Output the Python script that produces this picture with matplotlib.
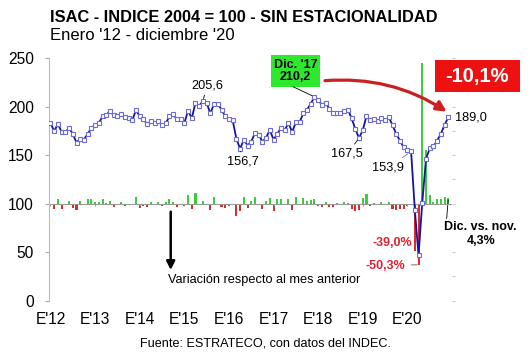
import numpy as np
import matplotlib
matplotlib.use('Agg')
import matplotlib.pyplot as plt
from matplotlib.patches import Rectangle

plt.rcParams['font.family'] = ['Liberation Sans', 'DejaVu Sans']

# ISAC, indice 2004=100, mensual ene-2012 .. dic-2020
isac = [
    183, 175, 182, 174, 174, 178, 172, 163, 167, 166, 172, 178,          # 2012
    181, 183, 190, 191, 196, 191, 190, 192, 189, 188, 186, 196.6,        # 2013
    190, 187, 182, 185, 183, 185, 181, 183, 190, 192, 187, 187,          # 2014
    183, 196, 188, 204, 201, 205.6, 204, 193, 203, 203, 197, 190,        # 2015
    187, 186, 167, 156.7, 166, 160, 164, 173, 171, 164, 168, 176,        # 2016
    166, 172, 178, 176, 183, 174, 184, 184, 193, 197, 203, 210.2,        # 2017
    207, 202, 204, 198, 193, 194, 193, 196, 197, 188, 177, 167.5,        # 2018
    176, 190, 186, 187, 185, 188, 186, 189, 181, 172, 165, 158,          # 2019
    155.5, 153.9, 93.9, 46.7, 101, 146, 157, 159, 165, 172, 181.2, 189.0,  # 2020
]
year_labels = ["E'12", "E'13", "E'14", "E'15", "E'16", "E'17", "E'18", "E'19", "E'20"]

isac = np.array(isac, dtype=float)
months = np.arange(len(isac))
var = (isac[1:] / isac[:-1] - 1) * 100   # variacion mensual, desde feb-12

def fmt(v, pct=False):
    s = f"{v:.1f}".replace('.', ',')
    return s + '%' if pct else s

W, H = 530, 354
fig = plt.figure(figsize=(W / 100, H / 100), dpi=100)
ax = fig.add_axes([49 / W, 1 - 300.7 / H, (452 - 49) / W, (300.7 - 58.2) / H])
ax2 = ax.twinx()

# barras de variacion (eje derecho, 0 alineado con 100)
cols = np.where(var >= 0, '#3ccc3c', '#dd2a2a')
ax2.bar(months[1:], var, width=0.55, color=cols)
ax2.set_ylim(-80, 120)
ax2.set_yticks(np.arange(-80, 121, 20))
ax2.tick_params(axis='y', length=2, color='#cccccc', labelright=False)
for s in ax2.spines.values():
    s.set_visible(False)

ax.set_zorder(ax2.get_zorder() + 1)
ax.patch.set_visible(False)
ax.axhline(100, color='#999999', lw=0.8, zorder=0)
ax.vlines(months[::12], 97.5, 100, color='#999999', lw=0.8, zorder=0)
ax.plot(months, isac, color='#1414a0', lw=1.3, marker='s', ms=3.3,
        mfc='white', mec='#6c6cd8', mew=0.8, zorder=3)

ax.set_ylim(0, 250)
ax.set_xlim(-0.4, 108)
ax.set_yticks(range(0, 251, 50))
ax.set_xticks(months[::12])
ax.set_xticklabels(year_labels)
ax.tick_params(axis='y', length=3, color='#aaaaaa', pad=8, labelsize=11.2)
ax.tick_params(axis='x', length=0, pad=8, labelsize=11.2)
for s in ['top', 'right', 'bottom']:
    ax.spines[s].set_visible(False)
ax.spines['left'].set_color('#bbbbbb')

def fp(xp, yp):
    return (xp, H - yp)

lead = dict(arrowstyle='-', lw=0.6, color='k', shrinkA=1, shrinkB=2)
ax.annotate(fmt(isac[41]), xy=(41, isac[41]), xytext=fp(207, 85), textcoords='figure pixels',
            ha='center', va='center', fontsize=9.2, arrowprops=lead)
ax.annotate(fmt(isac[51]), xy=(51, isac[51]), xytext=fp(243, 162), textcoords='figure pixels',
            ha='center', va='center', fontsize=9.2, arrowprops=lead)
ax.annotate(fmt(isac[83]), xy=(83, isac[83]), xytext=fp(347, 154), textcoords='figure pixels',
            ha='center', va='center', fontsize=9.2, arrowprops=lead)
ax.annotate(fmt(isac[97]), xy=(97, isac[97]), xytext=fp(388, 168), textcoords='figure pixels',
            ha='center', va='center', fontsize=9.2,
            arrowprops=dict(arrowstyle='-', lw=0.6, color='#777777', shrinkA=2, shrinkB=3))
ax.annotate(fmt(isac[107]), xy=(107, isac[107]), xytext=fp(455, 117), textcoords='figure pixels',
            ha='left', va='center', fontsize=9.2)

# caja verde dic-17
fig.add_artist(Rectangle((270.7 / W, 1 - 86.7 / H), 49.3 / W, 31.7 / H,
                         transform=fig.transFigure, fc='#2ee82e', ec='none'))
fig.text(295.3 / W, 1 - 71 / H, "Dic. '17\n" + fmt(isac[71]), ha='center', va='center',
         fontsize=9, fontweight='bold', linespacing=1.1)
ax.annotate('', xy=(71, isac[71]), xytext=fp(293, 86.7), textcoords='figure pixels',
            arrowprops=dict(arrowstyle='-', lw=0.6, color='k', shrinkA=0, shrinkB=2))

# caja roja caida desde el maximo
fig.add_artist(Rectangle((435 / W, 1 - 91.7 / H), 85 / W, 31.7 / H,
                         transform=fig.transFigure, fc='#ee1111', ec='none'))
fig.text(477.5 / W, 1 - 76.5 / H, fmt((isac[107] / isac[71] - 1) * 100, pct=True),
         ha='center', va='center', color='white', fontsize=14.5, fontweight='bold')
ax.annotate('', xy=fp(446.7, 111.7), xycoords='figure pixels', xytext=fp(325, 80.7),
            textcoords='figure pixels',
            arrowprops=dict(arrowstyle='-|>,head_length=0.6,head_width=0.3', lw=2.3,
                            color='#cc2020', connectionstyle='arc3,rad=-0.17',
                            shrinkA=0, shrinkB=0))

# caidas de marzo y abril 2020
fig.text(411.7 / W, 1 - 243 / H, fmt(var[97], pct=True), ha='right', va='center',
         color='#dd2233', fontsize=9, fontweight='bold')
ax2.annotate(fmt(var[98], pct=True), xy=(99, var[98]), xytext=fp(405.7, 266),
             textcoords='figure pixels', ha='right', va='center', color='#dd2233',
             fontsize=9, fontweight='bold',
             arrowprops=dict(arrowstyle='-', lw=0.8, color='#888888', shrinkA=2, shrinkB=1))

ax2.annotate('Dic. vs. nov.\n' + fmt(var[106], pct=True), xy=(107, var[106]),
             xytext=fp(480.7, 234), textcoords='figure pixels', ha='center', va='center',
             fontsize=9, fontweight='bold', linespacing=1.15,
             arrowprops=dict(arrowstyle='-', lw=0.6, color='k', shrinkA=0, shrinkB=1,
                             relpos=(0.0, 0.0)))

# flecha y texto de variacion
ax.annotate('', xy=fp(170.7, 270), xycoords='figure pixels', xytext=fp(170.7, 211.7),
            textcoords='figure pixels',
            arrowprops=dict(arrowstyle='-|>,head_length=0.5,head_width=0.25', lw=1.8,
                            color='k', shrinkA=0, shrinkB=0))
fig.text(168 / W, 1 - 280 / H, 'Variación respecto al mes anterior', ha='left', va='center',
         fontsize=9.2)

fig.text(50 / W, 1 - 18 / H, 'ISAC - INDICE 2004 = 100 - SIN ESTACIONALIDAD', ha='left',
         va='center', fontsize=11.8, fontweight='bold')
fig.text(50 / W, 1 - 36 / H, "Enero '12 - diciembre '20", ha='left', va='center', fontsize=12)
fig.text(266 / W, 1 - 343 / H, 'Fuente: ESTRATECO, con datos del INDEC.', ha='center',
         va='center', fontsize=9.1)

fig.savefig('out.png', dpi=100)
